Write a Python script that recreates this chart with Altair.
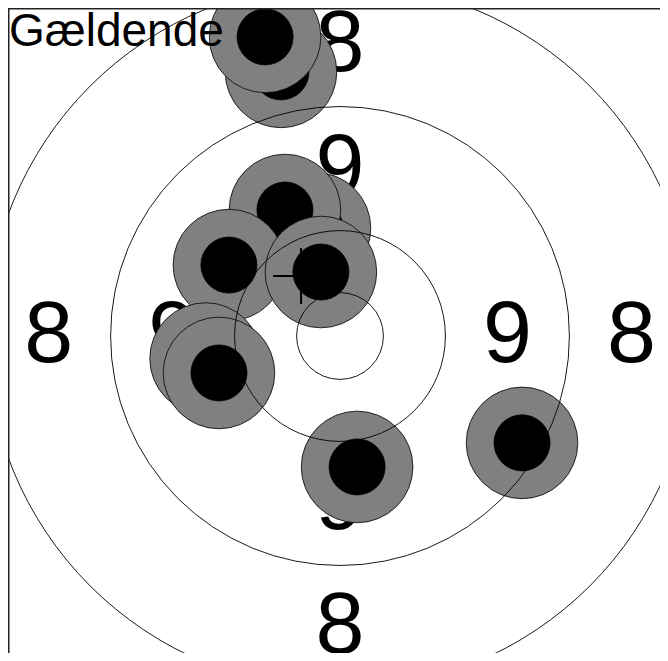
import altair as alt
import pandas as pd

# ---- data (millimetres, target centre at 0,0; y up) ----
ring_radius = [1.75, 4.25, 9.25, 14.25]          # inner ten, 10, 9, 8 rings
label_text = ["9", "8"]                            # score written between rings
label_radius = [6.75, 11.75]

# shots in firing/drawing order
shot_x = [-2.38, -3.02, -1.01, -2.22, -4.48, -0.77, -5.42, -4.88, 0.69, 7.34]
shot_y = [10.65, 12.06, 4.35, 5.08, 2.86, 2.58, -0.91, -1.49, -5.28, -4.31]
pellet_radius = 2.25
core_radius = 1.13

mean_x = [-1.57]
mean_y = [2.42]
mean_arm = [1.13]

caption = ["Gældende"]

# ---- layout ----
W, H = 652, 645
PX_PER_MM = 24.8
CX, CY = 332, 328                                  # plot pixel of target centre
XDOM = [-CX / PX_PER_MM, (W - CX) / PX_PER_MM]
YDOM = [-(H - CY) / PX_PER_MM, CY / PX_PER_MM]
RMAX = 15.0

xs = alt.Scale(domain=XDOM, nice=False, zero=False)
ys = alt.Scale(domain=YDOM, nice=False, zero=False)
ss = alt.Scale(type="pow", exponent=2, domain=[0, RMAX],
               range=[0, (2 * RMAX * PX_PER_MM) ** 2], zero=True)

X = alt.X("x:Q", scale=xs, axis=None)
Y = alt.Y("y:Q", scale=ys, axis=None)
S = alt.Size("r:Q", scale=ss, legend=None)

# tables
rings = pd.DataFrame({"x": 0.0, "y": 0.0, "r": ring_radius})

lab_rows = []
for t, rr in zip(label_text, label_radius):
    for dx, dy in [(1, 0), (-1, 0), (0, 1), (0, -1)]:
        lab_rows.append({"x": dx * rr, "y": dy * rr, "t": t})
labels = pd.DataFrame(lab_rows)

shot_rows = []
for i, (sx, sy) in enumerate(zip(shot_x, shot_y)):
    shot_rows.append({"x": sx, "y": sy, "r": pellet_radius, "part": "pellet", "seq": 2 * i})
    shot_rows.append({"x": sx, "y": sy, "r": core_radius, "part": "core", "seq": 2 * i + 1})
shots = pd.DataFrame(shot_rows)

mean = pd.DataFrame({"x": mean_x, "y": mean_y, "r": mean_arm})
cap = pd.DataFrame({"t": caption})
one = pd.DataFrame({"a": [0]})

FONT = "Liberation Sans"

label_layer = alt.Chart(labels).mark_text(
    font=FONT, fontSize=88, align="center", baseline="middle", color="black"
).encode(x=X, y=Y, text="t:N")

shot_layer = alt.Chart(shots).mark_point(
    shape="circle", filled=True, stroke="black", strokeWidth=0.8, opacity=1
).encode(
    x=X, y=Y, size=S,
    color=alt.Color("part:N", scale=alt.Scale(domain=["pellet", "core"],
                                              range=["#808080", "#000000"]), legend=None),
    order=alt.Order("seq:Q"),
)

caption_layer = alt.Chart(cap).mark_text(
    font=FONT, fontSize=46, align="left", baseline="alphabetic", color="black"
).encode(x=alt.value(1), y=alt.value(38), text="t:N")

ring_layer = alt.Chart(rings).mark_point(
    shape="circle", filled=False, stroke="black", strokeWidth=0.9, opacity=1
).encode(x=X, y=Y, size=S)

mean_layer = alt.Chart(mean).mark_point(
    shape="M-1,0L1,0M0,-1L0,1", filled=False, stroke="black", strokeWidth=2, opacity=1
).encode(x=X, y=Y, size=S)

left_line = alt.Chart(one).mark_rule(color="#222222", strokeWidth=1.5).encode(
    x=alt.value(0.75), y=alt.value(0), y2=alt.value(H))
top_line = alt.Chart(one).mark_rule(color="#222222", strokeWidth=1.5).encode(
    y=alt.value(0.75), x=alt.value(0), x2=alt.value(W))

chart = alt.layer(
    label_layer, shot_layer, caption_layer, ring_layer, mean_layer, left_line, top_line
).properties(
    width=W, height=H, padding=0,
    autosize=alt.AutoSizeParams(type="none"),
    background="white",
).configure_view(stroke=None)

chart.save("out.html", embed_options={"renderer": "svg", "actions": False})
